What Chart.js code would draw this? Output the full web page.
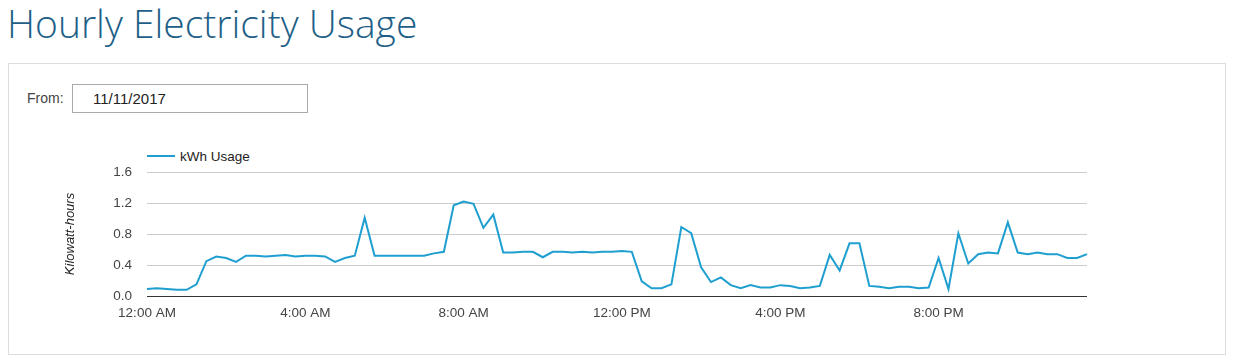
<!DOCTYPE html>
<html>
<head>
<meta charset="utf-8">
<script src="https://cdn.jsdelivr.net/npm/chart.js@4"></script>
<style>
    body { margin: 0; background: #fff; width: 1239px; height: 363px; position: relative; overflow: hidden; font-family: "Liberation Sans", Arial, sans-serif; }
    h1 { position: absolute; left: 7px; top: -4px; margin: 0; font-family: "Open Sans", sans-serif; font-weight: 300; font-size: 39px; color: #1e5f87; }
    .panel { position: absolute; left: 8px; top: 63px; width: 1216px; height: 290px; border: 1px solid #ddd; }
    .from { position: absolute; left: 27px; top: 90px; font-size: 14px; color: #444; }
    .date { position: absolute; left: 72px; top: 84px; height: 27px; border: 1px solid #aaa; font-size: 15px; color: #222; line-height: 27px; padding-left: 20px; width: 214px; }
    .legend { position: absolute; left: 147px; top: 149px; font-size: 13.5px; color: #222; }
    .legend span.swatch { display: inline-block; width: 28px; height: 2px; background: #1f9fcf; vertical-align: middle; margin-right: 5px; position: relative; top: -1px; }
    canvas { position: absolute; left: 0; top: 141px; }
</style>
</head>
<body>
<h1>Hourly Electricity Usage</h1>
<div class="panel"></div>
<div class="from">From:</div>
<div class="date">11/11/2017</div>
<div class="legend"><span class="swatch"></span>kWh Usage</div>
<canvas id="chart" width="1239" height="190"></canvas>
<script>
// 15-minute readings for the day, kWh
const usage = [
    0.09, 0.10, 0.09, 0.08, 0.08, 0.15, 0.45, 0.51, 0.49, 0.44, 0.52, 0.52, 0.51, 0.52, 0.53, 0.51,
    0.52, 0.52, 0.51, 0.44, 0.49, 0.52, 1.01, 0.52, 0.52, 0.52, 0.52, 0.52, 0.52, 0.55, 0.57, 1.17,
    1.22, 1.19, 0.88, 1.05, 0.56, 0.56, 0.57, 0.57, 0.50, 0.57, 0.57, 0.56, 0.57, 0.56, 0.57, 0.57,
    0.58, 0.57, 0.19, 0.10, 0.10, 0.15, 0.89, 0.81, 0.37, 0.18, 0.24, 0.14, 0.10, 0.14, 0.11, 0.11,
    0.14, 0.13, 0.10, 0.11, 0.13, 0.53, 0.33, 0.68, 0.68, 0.13, 0.12, 0.10, 0.12, 0.12, 0.10, 0.11,
    0.49, 0.09, 0.81, 0.42, 0.54, 0.56, 0.55, 0.95, 0.56, 0.54, 0.56, 0.54, 0.54, 0.49, 0.49, 0.54
];
const tickLabels = ['12:00 AM', '4:00 AM', '8:00 AM', '12:00 PM', '4:00 PM', '8:00 PM'];
const yTicks = [0, 0.4, 0.8, 1.2, 1.6];

// one category per quarter hour, tick label on every 4th hour
const slots = usage.map((v, i) => i % 16 === 0 ? tickLabels[i / 16] : '');

const lineColor = '#1f9fcf';
const tickFont = { family: '"Liberation Sans", Arial, sans-serif', size: 13.5 };

new Chart(document.getElementById('chart'), {
    type: 'line',
    data: {
        labels: slots,
        datasets: [{
            label: 'kWh Usage',
            data: usage,
            borderColor: lineColor,
            backgroundColor: lineColor,
            borderWidth: 2,
            pointRadius: 0,
            tension: 0
        }]
    },
    options: {
        responsive: false,
        animation: false,
        devicePixelRatio: 1,
        layout: { padding: { left: 63, top: 31, right: 152, bottom: 0 } },
        plugins: {
            legend: { display: false },
            tooltip: { enabled: false }
        },
        scales: {
            x: {
                grid: { display: false, drawTicks: false },
                border: { display: false },
                ticks: {
                    autoSkip: false,
                    maxRotation: 0,
                    padding: 9,
                    color: '#444',
                    font: tickFont,
                    callback: (v, i) => slots[i]
                },
                afterFit: (s) => { s.height = 35; }
            },
            y: {
                min: 0,
                max: 1.6,
                afterBuildTicks: (s) => { s.ticks = yTicks.map(v => ({ value: v })); },
                grid: {
                    drawTicks: false,
                    color: (ctx) => ctx.tick && ctx.tick.value === 0 ? '#333' : '#ccc'
                },
                border: { display: false },
                ticks: {
                    padding: 15,
                    color: '#444',
                    font: tickFont,
                    callback: (v) => v.toFixed(1)
                },
                title: {
                    display: true,
                    text: 'Kilowatt-hours',
                    color: '#222',
                    padding: 0,
                    font: { family: '"Liberation Sans", Arial, sans-serif', size: 13, style: 'italic' }
                },
                afterFit: (s) => { s.width = 84; }
            }
        }
    }
});
</script>
</body>
</html>
